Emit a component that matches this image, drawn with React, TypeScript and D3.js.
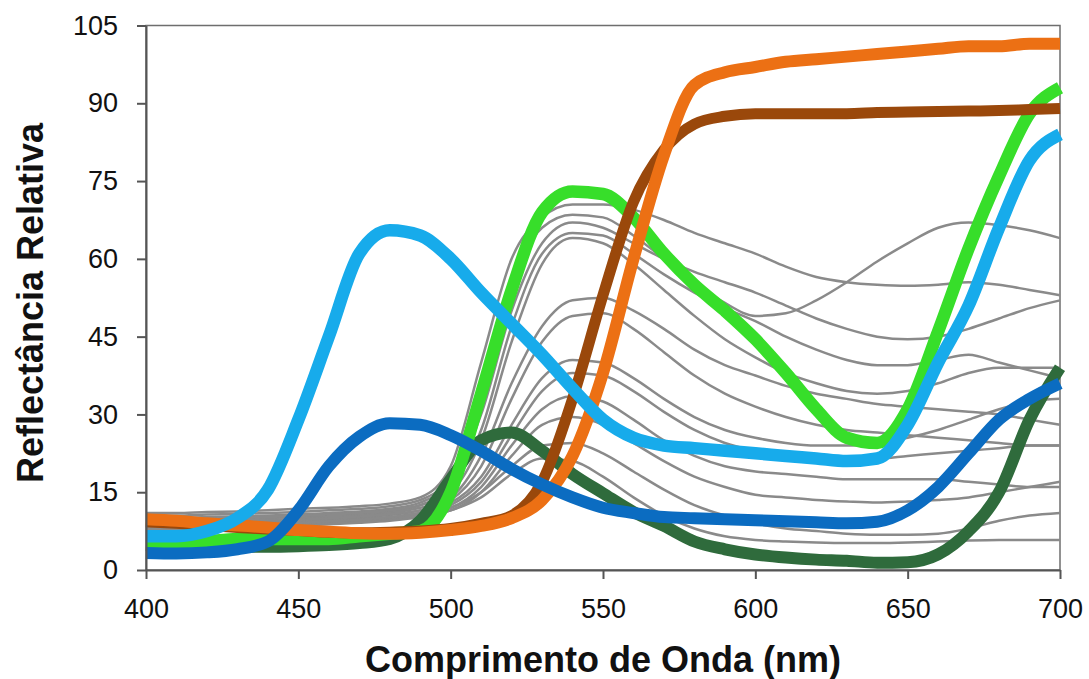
import React, { useEffect, useRef } from 'react';
import * as d3 from 'd3';

// wavelength grid (nm), one reading every 10 nm
const wavelengths = d3.range(400, 701, 10);

// highlighted spectra
const orange = [9.8, 9.5, 9, 8.6, 8.2, 7.7, 7.4, 7.1, 7, 7.2, 7.7, 8.5, 10, 13.5, 22, 38, 60, 80, 93.5, 96, 97, 98, 98.5, 99, 99.5, 100, 100.5, 101, 101, 101.5, 101.5];
const brown = [9.3, 9, 8.6, 8.2, 7.9, 7.6, 7.3, 7.2, 7.3, 7.5, 8, 9, 10.5, 17, 33, 53, 71, 81, 86, 87.5, 88, 88, 88, 88, 88.2, 88.3, 88.4, 88.5, 88.6, 88.8, 89];
const green = [5, 5, 5.5, 6, 6, 6, 6, 6.5, 7, 7.5, 15, 34, 54, 69, 73, 72.5, 68, 61, 55, 50, 44.5, 38, 31, 25.5, 24.5, 31, 46, 62, 76, 88, 93];
const darkGreen = [4.8, 4.6, 4.5, 4.5, 4.5, 4.6, 4.8, 5.2, 6, 9.5, 17.5, 25, 26.5, 23, 18.5, 14.8, 11.2, 8.5, 5.5, 4, 3, 2.4, 2, 1.8, 1.4, 1.5, 3, 7.5, 15, 29, 39];
const lightBlue = [6.5, 6.5, 7.5, 10, 15.5, 29, 45, 61, 65.5, 64.5, 60, 53.5, 47.5, 41.5, 35, 29, 25.5, 24, 23.5, 23, 22.5, 22, 21.5, 21, 21.5, 28, 40, 51, 66, 79, 84];
const darkBlue = [3.3, 3.2, 3.4, 4, 5.5, 11.5, 20, 25.7, 28.3, 28, 26, 23, 19.5, 16.5, 14, 12, 11, 10.2, 10, 9.8, 9.6, 9.4, 9.2, 9, 9.3, 11.5, 16, 22.5, 29, 33, 36];

// background (grey) spectra
const grey1 = [11, 11, 11.2, 11.3, 11.5, 11.8, 12, 12.3, 12.8, 14, 20, 40, 60, 68, 70.5, 70.5, 69.5, 67.5, 65, 63, 61, 58.5, 56.5, 55.5, 55, 54.8, 55, 55.5, 55, 54, 53];
const grey2 = [10.5, 10.5, 10.7, 10.8, 11, 11.2, 11.5, 11.8, 12.3, 13.5, 18, 33, 55, 66, 68.5, 68, 64.5, 60, 55.5, 51.5, 49, 49.5, 52, 55.5, 59.5, 63, 66, 67, 66.5, 65.5, 64];
const grey3 = [10, 10, 10.2, 10.3, 10.5, 10.7, 11, 11.3, 11.8, 13, 17, 30, 50, 63, 67, 66, 63, 60, 57.5, 55.5, 53.5, 51, 48.5, 46.5, 45, 44.5, 45, 46.5, 48.5, 50.5, 52];
const grey4 = [9.5, 9.6, 9.7, 9.8, 10, 10.2, 10.5, 10.8, 11.3, 12.5, 16, 27, 47, 61, 65, 64.5, 61, 57, 53.5, 50.5, 48, 45, 42.5, 40.5, 39.5, 39.5, 40.5, 41.5, 40, 38.5, 37];
const grey5 = [9.8, 9.8, 9.9, 10, 10.2, 10.4, 10.7, 11, 11.5, 12.5, 15, 25, 44, 59, 64, 63, 59, 54, 49, 44.5, 41, 38, 36, 34.5, 34, 34.5, 36, 38, 39, 39, 39];
const grey6 = [9.2, 9.3, 9.4, 9.5, 9.7, 9.9, 10.2, 10.5, 11, 12, 14, 22, 36, 47, 52, 52.5, 50, 46.5, 42.5, 39.5, 37.5, 35.5, 34, 33, 32, 31.5, 31, 30.5, 30, 29, 28];
const grey7 = [8.8, 8.9, 9, 9.1, 9.3, 9.5, 9.8, 10.1, 10.6, 11.5, 13.5, 20, 33, 44, 49, 49.5, 46.5, 42, 37.5, 34, 31.5, 29.5, 28, 27, 26.5, 26, 25.5, 25, 24.5, 24, 24];
const grey8 = [9, 9.1, 9.2, 9.3, 9.5, 9.7, 10, 10.3, 10.8, 11.5, 13, 18, 28, 37, 40.5, 40, 37, 33, 29.5, 27, 25.5, 24.5, 24, 24, 24.5, 25.5, 27, 29, 31, 32.5, 33];
const grey9 = [8.5, 8.6, 8.7, 8.8, 9, 9.2, 9.5, 9.8, 10.2, 11, 12.5, 17, 26, 34.5, 38, 37.5, 34.5, 30.5, 27, 24.5, 23, 22, 21.5, 21.5, 21.5, 22, 22.5, 23, 23.5, 24, 24];
const grey10 = [8.2, 8.3, 8.4, 8.5, 8.7, 8.9, 9.2, 9.5, 10, 10.8, 12, 16, 24, 31, 33.5, 32.5, 29, 25, 22, 20, 19, 18.5, 18, 17.5, 17.5, 17.5, 17.5, 17, 16.5, 16, 16];
const grey11 = [8, 8.1, 8.2, 8.3, 8.5, 8.7, 9, 9.3, 9.8, 10.5, 11.5, 15, 22, 28, 29.5, 28, 24.5, 21, 18, 16, 14.5, 14, 13.5, 13.2, 13, 13.2, 13.5, 14, 15, 16, 17];
const grey12 = [8.4, 8.5, 8.6, 8.7, 8.9, 9.1, 9.4, 9.7, 10.2, 11, 12, 15, 20, 24, 24.5, 22.5, 19, 15.5, 12.5, 10.5, 9, 8, 7.5, 7, 6.8, 6.8, 7, 8, 9.5, 10.5, 11];
const grey13 = [7.8, 7.9, 8, 8.1, 8.3, 8.5, 8.8, 9.1, 9.5, 10.2, 11.5, 14, 18.5, 21.5, 21, 18, 14, 10.5, 8, 6.5, 5.8, 5.5, 5.3, 5.2, 5.2, 5.3, 5.5, 5.7, 5.8, 5.8, 5.8];

const greySeries = [grey1, grey2, grey3, grey4, grey5, grey6, grey7, grey8, grey9, grey10, grey11, grey12, grey13];
// drawing order: first drawn ends up underneath
const colourSeries = [
    { values: darkGreen, colour: '#2f6b3c', width: 12 },
    { values: green, colour: '#37de2a', width: 12.5 },
    { values: brown, colour: '#9a480b', width: 11 },
    { values: orange, colour: '#ec7014', width: 12 },
    { values: lightBlue, colour: '#17abeb', width: 12.5 },
    { values: darkBlue, colour: '#0b6cc1', width: 12 },
];

const yTicks = [0, 15, 30, 45, 60, 75, 90, 105];
const xTicks = [400, 450, 500, 550, 600, 650, 700];

const width = 1089;
const height = 679;
const margins = { top: 25.5, right: 29, bottom: 109, left: 146 };
const font = '"Liberation Sans", Arial, sans-serif';

export default function App() {
    const svgRef = useRef<SVGSVGElement>(null);

    useEffect(() => {
        const svg = d3.select(svgRef.current);
        svg.selectAll('*').remove();

        const x = d3.scaleLinear().domain([400, 700]).range([margins.left, width - margins.right]);
        const y = d3.scaleLinear().domain([0, 105]).range([height - margins.bottom, margins.top]);
        const line = d3.line<number>()
            .x((_, i) => x(wavelengths[i]))
            .y(d => y(d))
            .curve(d3.curveMonotoneX);

        // frame
        svg.append('rect')
            .attr('x', x(400))
            .attr('y', y(105))
            .attr('width', x(700) - x(400))
            .attr('height', y(0) - y(105))
            .attr('fill', 'none')
            .attr('stroke', '#6e6e6e')
            .attr('stroke-width', 1.5);

        // grey spectra
        svg.append('g')
            .selectAll('path')
            .data(greySeries)
            .join('path')
            .attr('d', d => line(d))
            .attr('fill', 'none')
            .attr('stroke', '#8a8a8a')
            .attr('stroke-width', 2.5)
            .attr('stroke-linejoin', 'round');

        // highlighted spectra
        svg.append('g')
            .selectAll('path')
            .data(colourSeries)
            .join('path')
            .attr('d', d => line(d.values))
            .attr('fill', 'none')
            .attr('stroke', d => d.colour)
            .attr('stroke-width', d => d.width)
            .attr('stroke-linejoin', 'round');

        // axes
        const axisY = d3.axisLeft(y).tickValues(yTicks).tickSize(9).tickSizeOuter(0).tickPadding(19);
        const gy = svg.append('g')
            .attr('transform', `translate(${x(400)},0)`)
            .call(axisY);
        const axisX = d3.axisBottom(x).tickValues(xTicks).tickSize(9).tickSizeOuter(0).tickPadding(20);
        const gx = svg.append('g')
            .attr('transform', `translate(0,${y(0)})`)
            .call(axisX);
        [gx, gy].forEach(g => {
            g.selectAll('path, line').attr('stroke', '#555').attr('stroke-width', 2);
            g.selectAll('text')
                .attr('fill', '#111')
                .style('font-family', font)
                .style('font-size', '27px');
        });

        // titles
        svg.append('text')
            .attr('x', (x(400) + x(700)) / 2)
            .attr('y', 672)
            .attr('text-anchor', 'middle')
            .style('font-family', font)
            .style('font-size', '36px')
            .style('font-weight', 'bold')
            .attr('fill', '#111')
            .text('Comprimento de Onda (nm)');
        svg.append('text')
            .attr('transform', `translate(43,303) rotate(-90)`)
            .attr('text-anchor', 'middle')
            .style('font-family', font)
            .style('font-size', '36px')
            .style('font-weight', 'bold')
            .attr('fill', '#111')
            .text('Reflectância Relativa');
    }, []);

    return (
        <div style={{ position: 'absolute', left: 0, top: 0 }}>
            <svg ref={svgRef} width={width} height={height} style={{ display: 'block', background: '#fff' }} />
        </div>
    );
}
